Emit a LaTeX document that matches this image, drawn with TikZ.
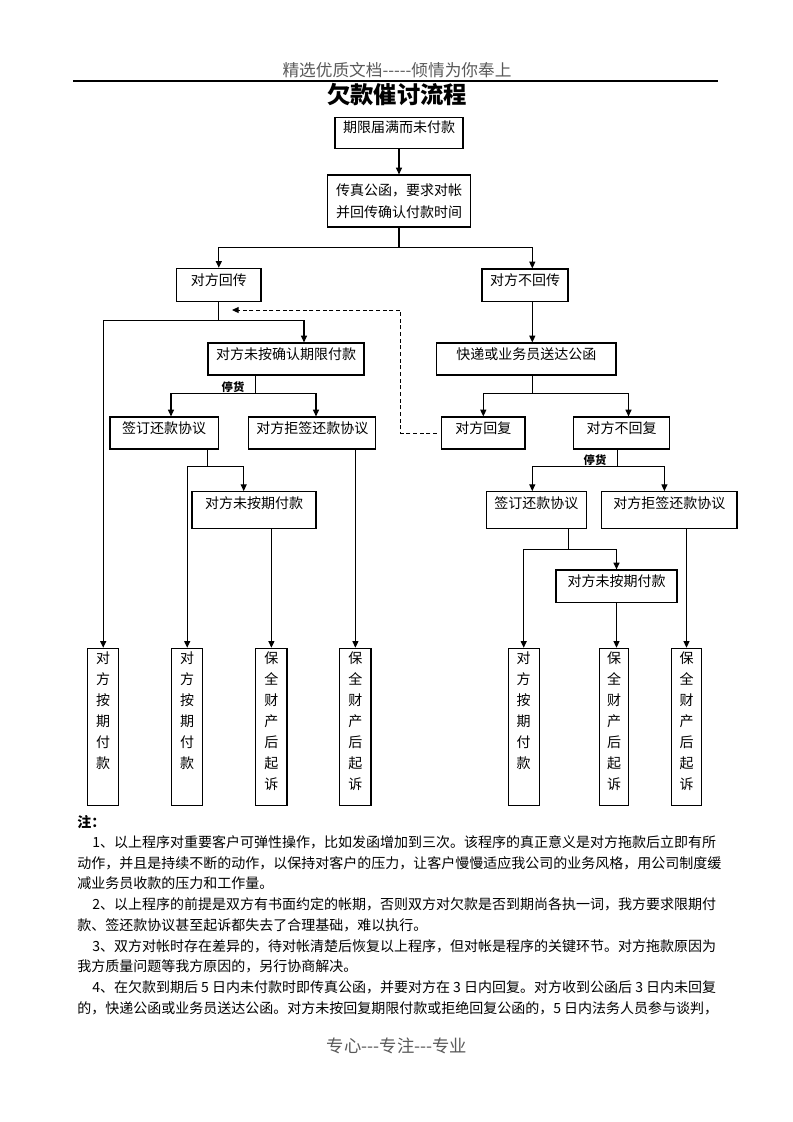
\documentclass[tikz,border=0pt]{standalone}
\usepackage{fontspec}
\setmainfont{Noto Sans CJK SC}
\usetikzlibrary{arrows.meta,calc}

% vertical text in the narrow end boxes
\newcommand{\vtext}[1]{\parbox[c][116pt][t]{12pt}{\centering\baselineskip=15.75pt\vspace*{1.6pt}#1}}
% a full justified line of the notes
\newcommand{\jline}[1]{\noindent\XeTeXlinebreaklocale "zh"\XeTeXlinebreakskip=0pt plus 1pt\relax\parfillskip=0pt\relax #1}

\begin{document}
\begin{tikzpicture}[x=0.75pt,y=-0.75pt,
  boxbase/.style={draw, line width=0.9pt, inner sep=0pt, font=\fontsize{10.5}{16.2}\selectfont},
  box/.style={boxbase, text height=5pt, text depth=5pt, minimum height=24pt},
  vbox/.style={boxbase, minimum width=23.3pt, minimum height=118pt},
  conn/.style={line width=0.8pt},
  arr/.style={line width=0.8pt, -{Triangle[length=5pt,width=4.5pt]}},
  dasharr/.style={line width=0.75pt, dash pattern=on 3pt off 2pt, -{Triangle[length=5pt,width=4.5pt]}},
  stop/.style={font=\fontsize{8.5}{10}\bfseries\selectfont, inner sep=0pt},
  noteline/.style={anchor=west, inner sep=0pt, font=\fontsize{10.5}{12}\selectfont},
  fullline/.style={noteline, align=justify},
]
\path[use as bounding box] (0,0) rectangle (793,1122);

% page head
\node[font=\fontsize{12.5}{14}\selectfont, text=black!65] (head) at (397,70) {精选优质文档-{}-{}-{}-{}-倾情为你奉上};
\draw[line width=0.8pt] (73,81) -- (718,81);
\node[font=\fontsize{17.5}{20}\bfseries\selectfont] (title) at (397,95) {欠款催讨流程};

% boxes
\node[box, minimum width=96pt, minimum height=23.25pt] (due) at (399,132.8) {期限届满而未付款};
\node[boxbase, align=center, minimum width=107.7pt, minimum height=39pt] (fax) at (399,201) {传真公函，要求对帐\\并回传确认付款时间};
\node[box, minimum width=63.3pt, minimum height=25pt] (reply) at (218.8,285) {对方回传};
\node[box, minimum width=64.5pt, minimum height=24.5pt] (noreply) at (525,285.3) {对方不回传};
\node[box, minimum width=117pt] (askA) at (286,359) {对方未按确认期限付款};
\node[box, minimum width=134.6pt] (express) at (526.3,359) {快递或业务员送达公函};
\node[box, minimum width=81.3pt] (signL) at (164.2,433) {签订还款协议};
\node[box, minimum width=95.3pt] (refuseL) at (312.3,433) {对方拒签还款协议};
\node[box, minimum width=62.6pt] (answered) at (483.3,433) {对方回复};
\node[box, minimum width=71.9pt] (silent) at (621.6,433) {对方不回复};
\node[box, minimum width=93pt, minimum height=27.5pt, text depth=8pt] (lateL) at (254,510) {对方未按期付款};
\node[box, minimum width=75pt, minimum height=27.5pt, text depth=8pt] (signR) at (536.3,510) {签订还款协议};
\node[box, minimum width=101.6pt, minimum height=27.5pt, text depth=8pt] (refuseR) at (669.3,510) {对方拒签还款协议};
\node[box, minimum width=90.8pt, minimum height=24.5pt] (lateR) at (616.5,586.3) {对方未按期付款};

% end boxes
\node[vbox] (p1) at (103.2,727) {\vtext{对\\方\\按\\期\\付\\款}};
\node[vbox] (p2) at (187.2,727) {\vtext{对\\方\\按\\期\\付\\款}};
\node[vbox] (s1) at (271.4,727) {\vtext{保\\全\\财\\产\\后\\起\\诉}};
\node[vbox] (s2) at (355.4,727) {\vtext{保\\全\\财\\产\\后\\起\\诉}};
\node[vbox] (p3) at (523.7,727) {\vtext{对\\方\\按\\期\\付\\款}};
\node[vbox, minimum width=22pt] (s3) at (614.2,727) {\vtext{保\\全\\财\\产\\后\\起\\诉}};
\node[vbox, minimum width=22pt] (s4) at (686.5,727) {\vtext{保\\全\\财\\产\\后\\起\\诉}};

% top part
\draw[arr] (due) -- (fax);
\draw[conn] (fax.south) -- ++(0,19.7) coordinate (split1);
\draw[arr] (split1) -| (reply.north);
\draw[arr] (split1) -| ($(noreply.north)+(7.3,0)$);

% left branch
\draw[conn] (reply.south) -- ++(0,18.3) coordinate (split2);
\draw[arr] (split2) -| (p1.north);
\draw[arr] (split2) -| ($(askA.north)+(18,0)$);
\draw[conn] ($(askA.south)+(-30.5,0)$) -- ++(0,18) coordinate (split3);
\node[stop] (stopL) at (233,386.7) {停货};
\draw[arr] (split3) -| ($(signL.north)+(6.8,0)$);
\draw[arr] (split3) -| ($(refuseL.north)+(3.7,0)$);
\draw[conn] ($(signL.south)+(43.6,0)$) -- ++(0,17) coordinate (split4);
\draw[arr] (split4) -| (p2.north);
\draw[arr] (split4) -| ($(lateL.north)+(-10.3,0)$);
\draw[arr] (lateL.south -| s1.north) -- (s1.north);
\draw[arr] (refuseL.south -| s2.north) -- (s2.north);

% back to the left branch when they answer
\coordinate (turn) at (400.7,310);
\coordinate (backtip) at (232,310);
\draw[dasharr] ($(answered.west)+(-4,0)$) -| (turn) -- (backtip);

% right branch
\draw[arr] ($(noreply.south)+(7.3,0)$) -- ($(express.north)+(6,0)$);
\draw[conn] ($(express.south)+(6,0)$) -- ++(0,18) coordinate (split5);
\draw[arr] (split5) -| (answered.north);
\draw[arr] (split5) -| ($(silent.north)+(6.9,0)$);
\draw[conn] ($(silent.south)+(-4.1,0)$) -- ++(0,17) coordinate (split6);
\node[stop] (stopR) at (595,460) {停货};
\draw[arr] (split6) -| ($(signR.north)+(-4,0)$);
\draw[arr] (split6) -| ($(refuseR.north)+(-4.9,0)$);
\draw[conn] ($(signR.south)+(32.3,0)$) -- ++(0,21) coordinate (split7);
\draw[arr] (split7) -| (p3.north);
\draw[arr] (split7) -| (lateR.north);
\draw[arr] (lateR.south) -- (lateR.south |- s3.north);
\draw[arr] (s4.north |- refuseR.south) -- (s4.north);

% notes
\node[noteline, font=\fontsize{10.5}{12}\bfseries\selectfont] (note) at (77,822) {注：};
\node[fullline, text width=472.5pt] (n1) at (92,842) {\jline{1、以上程序对重要客户可弹性操作，比如发函增加到三次。该程序的真正意义是对方拖款后立即有所}};
\node[fullline, text width=483.75pt] (n2) at (77,862.8) {\jline{动作，并且是持续不断的动作，以保持对客户的压力，让客户慢慢适应我公司的业务风格，用公司制度缓}};
\node[noteline] (n3) at (77,883.6) {减业务员收款的压力和工作量。};
\node[fullline, text width=472.5pt] (n4) at (92,904.4) {\jline{2、以上程序的前提是双方有书面约定的帐期，否则双方对欠款是否到期尚各执一词，我方要求限期付}};
\node[noteline] (n5) at (77,925.2) {款、签还款协议甚至起诉都失去了合理基础，难以执行。};
\node[fullline, text width=472.5pt] (n6) at (92,946) {\jline{3、双方对帐时存在差异的，待对帐清楚后恢复以上程序，但对帐是程序的关键环节。对方拖款原因为}};
\node[noteline] (n7) at (77,966.8) {我方质量问题等我方原因的，另行协商解决。};
\node[fullline, text width=472.5pt] (n8) at (92,987.6) {\jline{4、在欠款到期后~5~日内未付款时即传真公函，并要对方在~3~日内回复。对方收到公函后~3~日内未回复}};
\node[fullline, text width=483.75pt] (n9) at (77,1008.4) {\jline{的，快递公函或业务员送达公函。对方未按回复期限付款或拒绝回复公函的，5~日内法务人员参与谈判，}};

% page foot
\node[font=\fontsize{13}{15}\selectfont, text=black!65] (foot) at (397,1046) {专心-{}-{}-专注-{}-{}-专业};
\end{tikzpicture}
\end{document}
